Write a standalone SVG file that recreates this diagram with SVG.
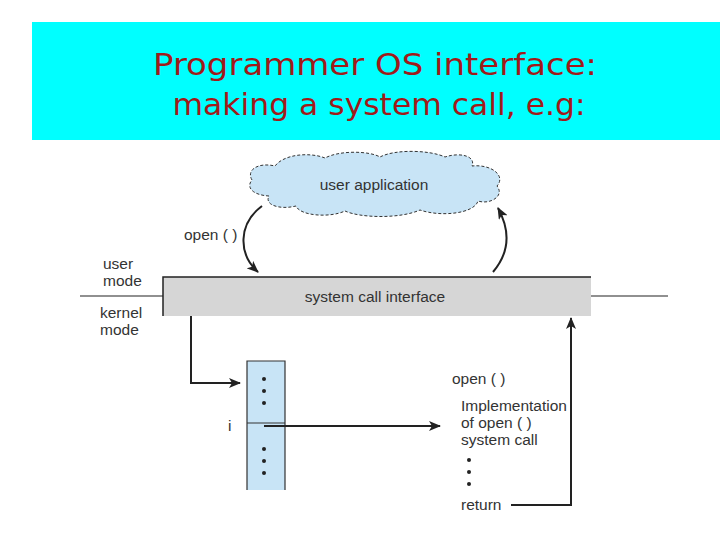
<svg xmlns="http://www.w3.org/2000/svg" width="720" height="540" viewBox="0 0 720 540">
<defs>
<style>
.t{font-family:"Liberation Sans",Arial,sans-serif;font-size:15.5px;fill:#333}
.title{font-family:"DejaVu Sans","Noto Sans",sans-serif;font-size:31px;fill:#a01a1a;text-anchor:middle}
.ln{stroke:#222;stroke-width:2;fill:none}
</style>
<marker id="ah" viewBox="0 0 12 10" refX="11" refY="5" markerWidth="12" markerHeight="10" markerUnits="userSpaceOnUse" orient="auto">
<path d="M0 0 L12 5 L0 10 L3 5 Z" fill="#222"/>
</marker>
</defs>
<rect width="720" height="540" fill="#fff"/>
<g id="banner">
<rect x="32" y="22" width="688" height="118" fill="#00ffff"/>
<text class="title" x="375" y="75" textLength="444" lengthAdjust="spacingAndGlyphs">Programmer OS interface:</text>
<text class="title" x="379" y="115" textLength="413" lengthAdjust="spacingAndGlyphs">making a system call, e.g:</text>
</g>
<g id="user-application">
<path d="M252 180 C246 170 258 162 275 166 C284 154 310 152 325 158 C340 150 370 151 380 157 C395 149 430 150 445 157 C460 152 476 156 472 166 C492 164 506 176 497 186 C505 196 490 205 478 201 C474 214 440 217 420 210 C400 219 360 218 345 211 C330 218 300 216 296 206 C280 210 264 205 269 196 C252 195 246 187 252 180 Z" fill="#c8e4f6" stroke="#333" stroke-width="1" stroke-dasharray="3,2"/>
<text class="t" x="374" y="190" text-anchor="middle">user application</text>
</g>
<g id="mode-labels">
<text class="t" x="103" y="269">user</text>
<text class="t" x="103" y="286">mode</text>
<text class="t" x="100" y="318">kernel</text>
<text class="t" x="100" y="335">mode</text>
</g>
<g id="system-call-interface">
<line x1="80" y1="296" x2="163" y2="296" stroke="#222" stroke-width="1.2"/>
<line x1="591" y1="296" x2="668" y2="296" stroke="#222" stroke-width="1.2"/>
<rect x="163" y="277" width="428" height="39" fill="#d6d6d6"/>
<path d="M163 316 V277 H591" fill="none" stroke="#222" stroke-width="1.5"/>
<text class="t" x="375" y="302" text-anchor="middle">system call interface</text>
</g>
<g id="table">
<rect x="247" y="361" width="38" height="129" fill="#c8e4f6"/>
<path d="M247 490 V361 H285 V490" fill="none" stroke="#333" stroke-width="1.2"/>
<line x1="247" y1="423" x2="285" y2="423" stroke="#333" stroke-width="1.2"/>
<g fill="#222">
<circle cx="264" cy="379" r="2"/><circle cx="264" cy="391" r="2"/><circle cx="264" cy="403" r="2"/>
<circle cx="264" cy="449" r="2"/><circle cx="264" cy="461" r="2"/><circle cx="264" cy="473" r="2"/>
</g>
<text class="t" x="228" y="431">i</text>
</g>
<g id="implementation">
<text class="t" x="452" y="384">open ( )</text>
<text class="t" x="461" y="411">Implementation</text>
<text class="t" x="461" y="428">of open ( )</text>
<text class="t" x="461" y="445">system call</text>
<g fill="#222">
<circle cx="469" cy="460" r="2"/><circle cx="469" cy="472" r="2"/><circle cx="469" cy="484" r="2"/>
</g>
<text class="t" x="461" y="510">return</text>
</g>
<g id="connectors">
<text class="t" x="184" y="240">open ( )</text>
<path class="ln" d="M262 206 C238 224 238 254 258 272" marker-end="url(#ah)"/>
<path class="ln" d="M493 272 C510 252 510 230 498 208" marker-end="url(#ah)"/>
<path class="ln" d="M191 316 V383 H240" marker-end="url(#ah)"/>
<path class="ln" d="M264 426 H440" marker-end="url(#ah)"/>
<path class="ln" d="M511 505 H571 V318" marker-end="url(#ah)"/>
</g>
</svg>
